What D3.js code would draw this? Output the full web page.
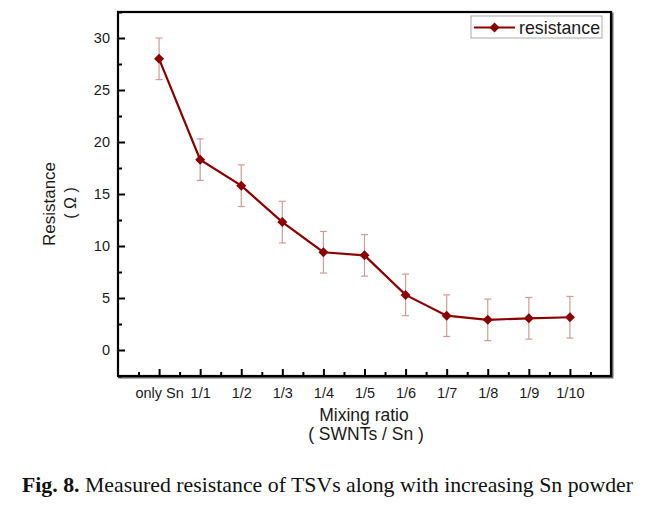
<!DOCTYPE html>
<html><head><meta charset="utf-8">
<script src="https://cdn.jsdelivr.net/npm/d3@7"></script>
<style>html,body{margin:0;padding:0;background:#fff;}svg{display:block;}</style>
</head><body>
<svg id="chart" width="647" height="508"></svg>
<script>
const categories = ["only Sn","1/1","1/2","1/3","1/4","1/5","1/6","1/7","1/8","1/9","1/10"];
const resistance = [28.0, 18.3, 15.8, 12.3, 9.4, 9.1, 5.3, 3.3, 2.9, 3.05, 3.15];
const errors = [2.0, 2.0, 2.0, 2.0, 2.0, 2.0, 2.0, 2.0, 2.0, 2.0, 2.0];
const yTicks = [0, 5, 10, 15, 20, 25, 30];
const yMinorTicks = [-2.5, 2.5, 7.5, 12.5, 17.5, 22.5, 27.5, 32.5];
const seriesName = "resistance";
const xTitle = ["Mixing ratio", "( SWNTs / Sn )"];
const yTitle = ["Resistance", "( Ω )"];
const captionBold = "Fig. 8.";
const captionText = " Measured resistance of TSVs along with increasing Sn powder";

const svg = d3.select("#chart");
const L = 118, R = 611, T = 12, B = 376;
const x = d3.scaleLinear().domain([-1, categories.length]).range([L, R]);
const y = d3.scaleLinear().domain([-2.5, 32.5]).range([B, T]);
const lineColor = "#8b0000";
const errColor = "#d29a9a";
const font = "'Liberation Sans', Arial, sans-serif";
const textColor = "#1a1a1a";

// frame shadow + frame
svg.append("rect").attr("x", L + 1.5).attr("y", T + 1.5).attr("width", R - L).attr("height", B - T)
  .attr("fill", "none").attr("stroke", "#666").attr("stroke-width", 2);
svg.append("rect").attr("x", L).attr("y", T).attr("width", R - L).attr("height", B - T)
  .attr("fill", "#fff").attr("stroke", "#000").attr("stroke-width", 2.2);

// x axis
const xIdx = categories.map((d, i) => i);
const xAxis = d3.axisBottom(x).tickValues(xIdx).tickFormat(i => categories[i]).tickSize(-7).tickPadding(12);
const gx = svg.append("g").attr("transform", `translate(0,${B})`).call(xAxis);
gx.select(".domain").remove();
gx.selectAll("line").attr("stroke", "#000").attr("stroke-width", 2);
gx.selectAll("text").attr("font-family", font).attr("font-size", 14.5).attr("fill", textColor);
const xMinor = d3.range(-0.5, categories.length, 1);
const gxm = svg.append("g").attr("transform", `translate(0,${B})`)
  .call(d3.axisBottom(x).tickValues(xMinor).tickSize(-4).tickFormat(""));
gxm.select(".domain").remove();
gxm.selectAll("line").attr("stroke", "#000").attr("stroke-width", 2);

// y axis
const yAxis = d3.axisLeft(y).tickValues(yTicks).tickSize(-7).tickPadding(8);
const gy = svg.append("g").attr("transform", `translate(${L},0)`).call(yAxis);
gy.select(".domain").remove();
gy.selectAll("line").attr("stroke", "#000").attr("stroke-width", 2);
gy.selectAll("text").attr("font-family", font).attr("font-size", 14.5).attr("fill", textColor);
const gym = svg.append("g").attr("transform", `translate(${L},0)`)
  .call(d3.axisLeft(y).tickValues(yMinorTicks).tickSize(-4).tickFormat(""));
gym.select(".domain").remove();
gym.selectAll("line").attr("stroke", "#000").attr("stroke-width", 2);

// error bars
const data = resistance.map((v, i) => ({i, v, e: errors[i]}));
const eb = svg.append("g");
data.forEach(d => {
  eb.append("line").attr("x1", x(d.i)).attr("x2", x(d.i)).attr("y1", y(d.v + d.e)).attr("y2", y(d.v - d.e))
    .attr("stroke", errColor).attr("stroke-width", 1.2);
  [d.v + d.e, d.v - d.e].forEach(t => {
    eb.append("line").attr("x1", x(d.i) - 3.5).attr("x2", x(d.i) + 3.5).attr("y1", y(t)).attr("y2", y(t))
      .attr("stroke", errColor).attr("stroke-width", 1.2);
  });
});

// line
svg.append("path").datum(data)
  .attr("d", d3.line().x(d => x(d.i)).y(d => y(d.v)))
  .attr("fill", "none").attr("stroke", lineColor).attr("stroke-width", 2.2);

svg.append("g").selectAll("path").data(data).join("path")
  .attr("d", d3.symbol().type(d3.symbolSquare).size(50))
  .attr("transform", d => `translate(${x(d.i)},${y(d.v)}) rotate(45)`)
  .attr("fill", lineColor);

// legend
const lg = svg.append("g");
lg.append("rect").attr("x", 471).attr("y", 16).attr("width", 131).attr("height", 22)
  .attr("fill", "#fff").attr("stroke", "#aaa").attr("stroke-width", 1);
lg.append("line").attr("x1", 474).attr("x2", 515).attr("y1", 27.5).attr("y2", 27.5)
  .attr("stroke", lineColor).attr("stroke-width", 2.2);
lg.append("path").attr("d", d3.symbol().type(d3.symbolSquare).size(50))
  .attr("transform", "translate(494.5,27.5) rotate(45)").attr("fill", lineColor);
lg.append("text").attr("x", 519).attr("y", 33.5).attr("font-family", font).attr("font-size", 17.8)
  .attr("fill", textColor).text(seriesName);

// axis titles
svg.append("text").attr("x", 364).attr("y", 421).attr("text-anchor", "middle")
  .attr("font-family", font).attr("font-size", 17.5).attr("fill", textColor).text(xTitle[0]);
svg.append("text").attr("x", 366).attr("y", 440).attr("text-anchor", "middle")
  .attr("font-family", font).attr("font-size", 17.5).attr("fill", textColor).text(xTitle[1]);
svg.append("text").attr("transform", "translate(55,204) rotate(-90)").attr("text-anchor", "middle")
  .attr("font-family", font).attr("font-size", 17).attr("fill", textColor).text(yTitle[0]);
svg.append("text").attr("transform", "translate(76,203) rotate(-90)").attr("text-anchor", "middle")
  .attr("font-family", font).attr("font-size", 16).attr("fill", textColor).text(yTitle[1]);

// caption
const cap = svg.append("text").attr("x", 22).attr("y", 492)
  .attr("font-family", "'Liberation Serif', 'Times New Roman', serif").attr("font-size", 21.8).attr("fill", "#111");
cap.append("tspan").attr("font-weight", "bold").text(captionBold);
cap.append("tspan").text(captionText);
</script>
</body></html>
